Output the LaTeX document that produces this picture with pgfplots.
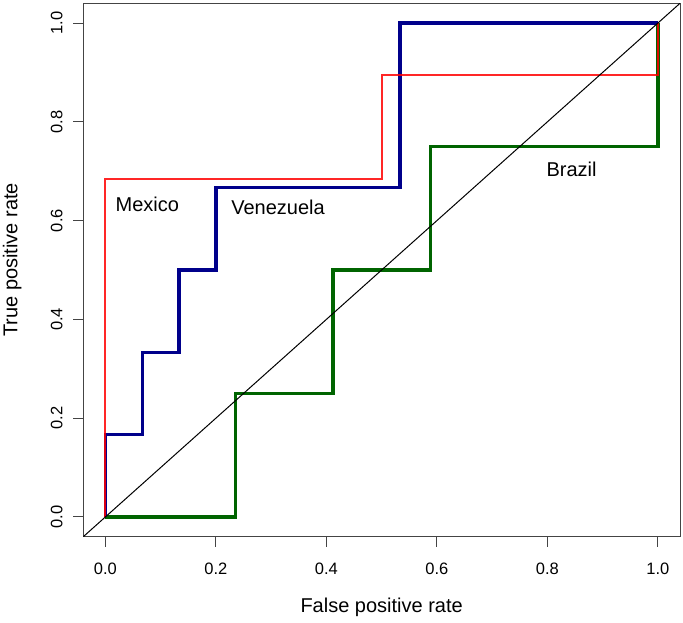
\documentclass[border=0pt]{standalone}
\usepackage{pgfplots}
\pgfplotsset{compat=1.18}
\usepackage{fontspec}
\setmainfont{Liberation Sans}
\definecolor{rblue}{HTML}{00008B}
\definecolor{rgreen}{HTML}{006400}
\definecolor{rgray}{HTML}{444444}
\begin{document}
\begin{tikzpicture}
\begin{axis}[
    scale only axis,
    width=596.7pt, height=533.4pt,
    xmin=-0.04, xmax=1.04, ymin=-0.04, ymax=1.04,
    axis line style={rgray, line width=0.9pt},
    tick align=outside, major tick length=10pt,
    tick style={rgray, line width=0.9pt},
    xtick pos=left, ytick pos=left,
    xtick={0,0.2,0.4,0.6,0.8,1},
    ytick={0,0.2,0.4,0.6,0.8,1},
    xticklabels={0.0,0.2,0.4,0.6,0.8,1.0},
    yticklabels={0.0,0.2,0.4,0.6,0.8,1.0},
    tick label style={font=\fontsize{16.5}{19}\selectfont},
    xticklabel style={anchor=base},
    yticklabel style={anchor=base, rotate=90},
    xticklabel shift=28.3pt,
    yticklabel shift=11pt,
    xlabel={False positive rate},
    ylabel={True positive rate},
    every axis x label/.style={at={(axis description cs:0.5,0)}, yshift=-76pt, anchor=base, font=\fontsize{20}{24}\selectfont},
    every axis y label/.style={at={(axis description cs:0,0.5)}, xshift=-66pt, yshift=10pt, rotate=90, anchor=base, font=\fontsize{20}{24}\selectfont},
]
% Brazil
\addplot[rgreen, line width=3.3pt, line join=miter] coordinates {
    (0,0) (0.2353,0) (0.2353,0.25) (0.4118,0.25) (0.4118,0.5)
    (0.5882,0.5) (0.5882,0.75) (1,0.75) (1,1)
};
% Venezuela
\addplot[rblue, line width=3.3pt, line join=miter] coordinates {
    (0,0) (0,0.1667) (0.0667,0.1667) (0.0667,0.3333) (0.1333,0.3333)
    (0.1333,0.5) (0.2,0.5) (0.2,0.6667) (0.5333,0.6667) (0.5333,1) (1,1)
};
% Mexico
\addplot[red, opacity=0.85, line width=2.2pt, line join=miter] coordinates {
    (0,0) (0,0.6842) (0.5,0.6842) (0.5,0.8947) (1,0.8947) (1,1)
};
% chance line
\addplot[black, line width=1pt] coordinates {(-0.04,-0.04) (1.04,1.04)};

\node[anchor=base, font=\fontsize{20}{24}\selectfont] at (axis cs:0.076,0.618) {Mexico};
\node[anchor=base west, font=\fontsize{20}{24}\selectfont] at (axis cs:0.2216,0.612) {Venezuela};
\node[anchor=base west, font=\fontsize{20}{24}\selectfont] at (axis cs:0.792,0.690) {Brazil};
\end{axis}
\pgfresetboundingbox
\useasboundingbox (-83.3pt,-86.3pt) rectangle (599.7pt,536.7pt);
\end{tikzpicture}
\end{document}
